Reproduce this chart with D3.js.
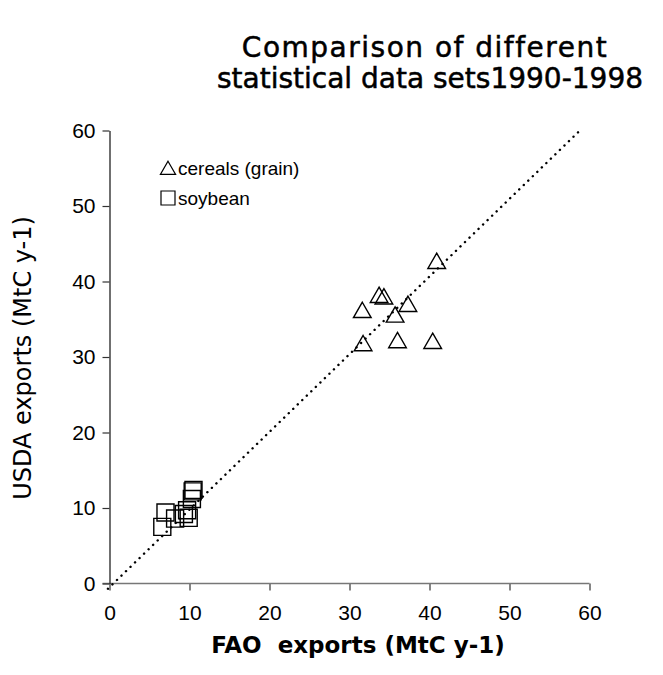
<!DOCTYPE html>
<html>
<head>
<meta charset="utf-8">
<script src="https://cdn.jsdelivr.net/npm/d3@7"></script>
<style>
  body { margin: 0; background: #fff; }
  svg { display: block; font-family: "DejaVu Sans", sans-serif; }
</style>
</head>
<body>
<div id="chart"></div>
<script>
// FAO vs USDA exports, MtC y-1, one point per year 1990-1998
const cerealsFao  = [40.9, 33.7, 34.3, 31.6, 37.3, 35.7, 31.7, 36.0, 40.4];
const cerealsUsda = [42.4, 37.9, 37.7, 35.9, 36.7, 35.3, 31.5, 31.9, 31.8];
const soyFao      = [10.5, 10.4, 10.3, 7.0, 9.7, 9.3, 9.9, 8.2, 6.6];
const soyUsda     = [12.4, 12.2, 11.2, 9.4, 9.7, 9.2, 8.7, 8.6, 7.5];
const fitLine     = [[-0.2, -0.7], [58.7, 59.9]];
const xTicks = [0, 10, 20, 30, 40, 50, 60];
const yTicks = [0, 10, 20, 30, 40, 50, 60];

const W = 663, H = 675;
const helv = "\"Liberation Sans\", Arial, sans-serif";
const x = d3.scaleLinear().domain([0, 60]).range([109.5, 589.5]);
const y = d3.scaleLinear().domain([0, 60]).range([583.5, 130.5]);

const svg = d3.select("#chart").append("svg")
    .attr("width", W)
    .attr("height", H);

// title
const title = svg.append("text")
    .attr("text-anchor", "middle")
    .attr("font-size", "28px")
    .attr("fill", "#000")
    .attr("stroke", "#000")
    .attr("stroke-width", 0.5);
title.append("tspan").attr("x", 425).attr("y", 57)
    .attr("letter-spacing", "1.5px")
    .text("Comparison of different");
title.append("tspan").attr("x", 430).attr("y", 88).text("statistical data sets1990-1998");

// axes
const xAxis = d3.axisBottom(x).tickValues(xTicks).tickSize(7).tickSizeOuter(0).tickPadding(15);
const yAxis = d3.axisLeft(y).tickValues(yTicks).tickSize(7).tickSizeOuter(0).tickPadding(7);

const gx = svg.append("g")
    .attr("transform", "translate(0," + y(0) + ")")
    .call(xAxis);
gx.select(".domain").remove();
gx.append("line")
    .attr("x1", x(0) - 7).attr("x2", x(60))
    .attr("stroke", "#777").attr("stroke-width", 1.3);
gx.selectAll(".tick line").attr("stroke", "#333").attr("stroke-width", 1.2);
gx.selectAll(".tick text")
    .attr("font-size", "21px")
    .attr("fill", "#000")
    .attr("font-family", helv);

const gy = svg.append("g")
    .attr("transform", "translate(" + x(0) + ",0)")
    .call(yAxis);
gy.select(".domain").attr("stroke", "#222").attr("stroke-width", 1.3);
gy.selectAll(".tick line").attr("stroke", "#333").attr("stroke-width", 1.2);
gy.selectAll(".tick text")
    .attr("font-size", "21px")
    .attr("fill", "#000")
    .attr("font-family", helv);

// axis labels
svg.append("text")
    .attr("x", 358).attr("y", 653)
    .attr("text-anchor", "middle")
    .attr("font-size", "23px")
    .attr("font-weight", "bold")
    .attr("fill", "#000")
    .style("white-space", "pre")
    .text("FAO  exports (MtC y-1)");

svg.append("text")
    .attr("transform", "translate(31,358) rotate(-90)")
    .attr("text-anchor", "middle")
    .attr("font-size", "24px")
    .attr("fill", "#000")
    .text("USDA exports (MtC y-1)");

// dotted fit line
svg.append("line")
    .attr("x1", x(fitLine[0][0])).attr("y1", y(fitLine[0][1]))
    .attr("x2", x(fitLine[1][0])).attr("y2", y(fitLine[1][1]))
    .attr("stroke", "#000")
    .attr("stroke-width", 2.4)
    .attr("stroke-linecap", "round")
    .attr("stroke-dasharray", "0.1,6.2");

const tri = d3.symbol().type(d3.symbolTriangle).size(135);
const sq = d3.symbol().type(d3.symbolSquare).size(290);

const cereals = cerealsFao.map((v, i) => ({ fao: v, usda: cerealsUsda[i] }));
const soy = soyFao.map((v, i) => ({ fao: v, usda: soyUsda[i] }));

svg.append("g").selectAll("path")
    .data(soy)
    .enter().append("path")
    .attr("d", sq)
    .attr("transform", d => "translate(" + x(d.fao) + "," + y(d.usda) + ")")
    .attr("fill", "none")
    .attr("stroke", "#000")
    .attr("stroke-width", 1.4);

svg.append("g").selectAll("path")
    .data(cereals)
    .enter().append("path")
    .attr("d", tri)
    .attr("transform", d => "translate(" + x(d.fao) + "," + y(d.usda) + ")")
    .attr("fill", "none")
    .attr("stroke", "#000")
    .attr("stroke-width", 1.4);

// legend
const legend = svg.append("g").attr("transform", "translate(168,0)");
legend.append("path")
    .attr("d", d3.symbol().type(d3.symbolTriangle).size(100))
    .attr("transform", "translate(0,170)")
    .attr("fill", "none").attr("stroke", "#000").attr("stroke-width", 1.2);
legend.append("text")
    .attr("x", 10).attr("y", 175)
    .attr("font-size", "19px").attr("fill", "#000")
    .attr("font-family", helv)
    .text("cereals (grain)");
legend.append("path")
    .attr("d", d3.symbol().type(d3.symbolSquare).size(196))
    .attr("transform", "translate(0,198)")
    .attr("fill", "none").attr("stroke", "#000").attr("stroke-width", 1.2);
legend.append("text")
    .attr("x", 10).attr("y", 205)
    .attr("font-size", "19px").attr("fill", "#000")
    .attr("font-family", helv)
    .text("soybean");
</script>
</body>
</html>
